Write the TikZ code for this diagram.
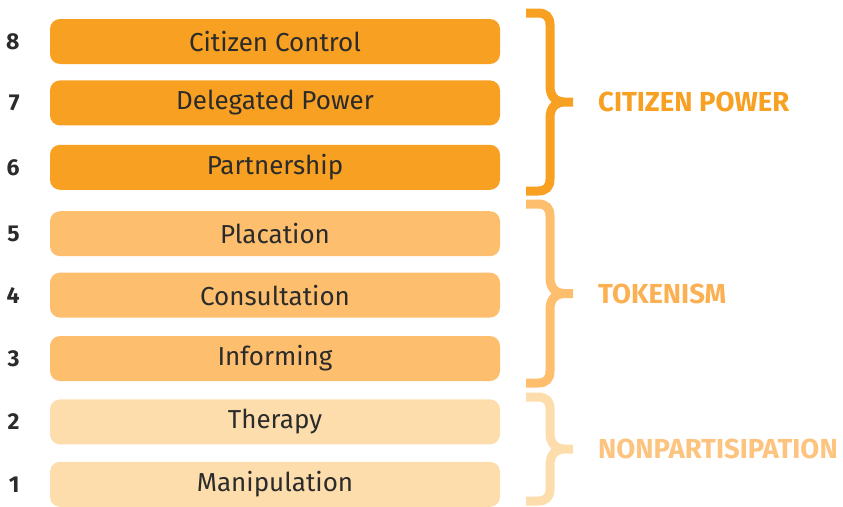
\documentclass[tikz,border=0pt]{standalone}
\usepackage{fontspec}
\setmainfont{Fira Sans}
\usepackage{tikz}
\usetikzlibrary{positioning, calc}

\definecolor{powerorange}{HTML}{F7A021}
\definecolor{tokenorange}{HTML}{FDBF6E}
\definecolor{nonorange}{HTML}{FDDDAC}
\definecolor{tokentext}{HTML}{FBB153}
\definecolor{nontext}{HTML}{FDC47F}
\definecolor{rungtext}{HTML}{2B2B2B}

% brace over one tier: #1 top y, #2 bottom y, #3 colour, #4 tip name
\newcommand{\tierbrace}[4]{%
  \pgfmathsetmacro{\bracemid}{(#1+#2)/2}
  \draw[tbrace, #3] (526,#1) -- (538,#1) .. controls (546,#1) and (550,#1+4) .. (550,#1+12)
      -- (550,\bracemid-16) .. controls (550,\bracemid-5) and (556,\bracemid) .. (565,\bracemid) -- (573,\bracemid)
    (526,#2) -- (538,#2) .. controls (546,#2) and (550,#2-4) .. (550,#2-12)
      -- (550,\bracemid+16) .. controls (550,\bracemid+5) and (556,\bracemid) .. (565,\bracemid) -- (573,\bracemid);
  \coordinate (#4) at (573,\bracemid);
}

\begin{document}
\begin{tikzpicture}[x=1pt, y=-1pt,
                rung/.style={minimum width=450pt, minimum height=45pt, rounded corners=10pt, inner sep=0pt,
                  text=rungtext, font=\fontsize{26}{26}\selectfont},
                num/.style={inner sep=0pt, text=rungtext, font=\fontsize{23}{23}\selectfont\bfseries},
                tier/.style={inner sep=0pt, anchor=west, font=\fontsize{27.5}{27.5}\selectfont\bfseries},
                tbrace/.style={line width=9pt}]

                \useasboundingbox (0,0) rectangle (843,506);

                % Citizen power rungs
                \node[rung, fill=powerorange] at (275,41.5) (r8) {Citizen Control};
                \node[rung, fill=powerorange, below=16pt of r8] (r7) {Delegated Power};
                \node[rung, fill=powerorange, below=19pt of r7] (r6) {Partnership};

                % Tokenism rungs
                \node[rung, fill=tokenorange, below=21pt of r6] (r5) {Placation};
                \node[rung, fill=tokenorange, below=16pt of r5] (r4) {Consultation};
                \node[rung, fill=tokenorange, below=18pt of r4] (r3) {Informing};

                % Nonparticipation rungs
                \node[rung, fill=nonorange, below=18pt of r3] (r2) {Therapy};
                \node[rung, fill=nonorange, below=17pt of r2] (r1) {Manipulation};

                % rung numbers
                \foreach \i in {1,...,8}
                  \node[num, left=30pt of r\i, anchor=east] (n\i) {\i};

                % braces and tier names
                \tierbrace{13}{191}{powerorange}{tip1}
                \tierbrace{204}{383}{tokenorange}{tip2}
                \tierbrace{397}{501}{nonorange}{tip3}

                \node[tier, text=powerorange, right=25pt of tip1] (t1) {CITIZEN POWER};
                \node[tier, text=tokentext, right=25pt of tip2] (t2) {TOKENISM};
                \node[tier, text=nontext, right=25pt of tip3] (t3) {NONPARTISIPATION};
            \end{tikzpicture}
\end{document}
